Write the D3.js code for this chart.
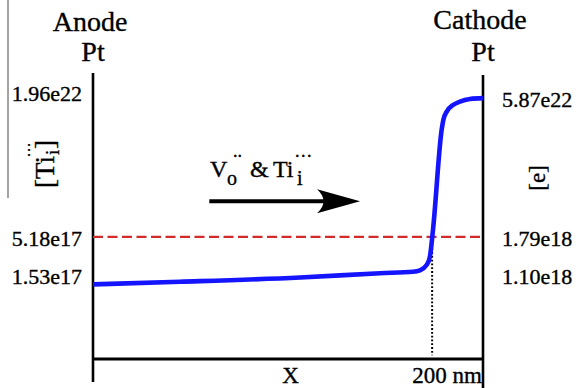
<!DOCTYPE html>
<html>
<head>
<meta charset="utf-8">
<script src="https://cdn.jsdelivr.net/npm/d3@7"></script>
<style>
  html, body { margin: 0; padding: 0; background: #fff; }
  svg text { font-family: "Liberation Serif", "Times New Roman", Times, serif; fill: #000; stroke: #000; stroke-width: 0.35px; }
</style>
</head>
<body>
<div id="chart"></div>
<script>
// position along the film (nm) and relative concentration level (schematic)
const positionNm = [0, 51.3, 122.1, 169.3, 188.7, 192.8, 196.8, 198.7, 200.5, 205.6, 206.6, 208.6, 212.3, 216.4, 222.3, 230];
const concLevel  = [26.1, 27.0, 28.5, 30.0, 30.5, 31.0, 32.9, 35.8, 45.1, 80.1, 83.6, 86.5, 88.8, 90.0, 90.9, 91.2];

const leftTickLevels = [92.7, 42.3, 29.0];
const leftTickLabels = ['1.96e22', '5.18e17', '1.53e17'];
const rightTickLevels = [90.7, 42.3, 29.0];
const rightTickLabels = ['5.87e22', '1.79e18', '1.10e18'];

const thresholdLevel = 42.7;
const junctionNm = 200;
const maxNm = 230;

const width = 578, height = 388;
const serif = '"Liberation Serif", "Times New Roman", Times, serif';

const svg = d3.select('#chart').append('svg')
  .attr('width', width)
  .attr('height', height);

// scales
const x = d3.scaleLinear().domain([0, maxNm]).range([93, 483]);
const y = d3.scaleLinear().domain([0, 100]).range([359, 73]);

// thin gray rule on the far left
svg.append('line')
  .attr('x1', 8).attr('x2', 8)
  .attr('y1', 0).attr('y2', 198)
  .attr('stroke', '#666')
  .attr('stroke-width', 1.2);

// electrode titles
const titles = [
  { t: 'Anode', x: x(0) - 3, y: 31 },
  { t: 'Pt', x: x(0), y: 61 },
  { t: 'Cathode', x: x(maxNm) - 3, y: 29 },
  { t: 'Pt', x: x(maxNm), y: 61 }
];
svg.selectAll('.title')
  .data(titles)
  .enter()
  .append('text')
  .attr('class', 'title')
  .attr('x', d => d.x)
  .attr('y', d => d.y)
  .attr('text-anchor', 'middle')
  .style('font-size', '28px')
  .text(d => d.t);

// axes with custom tick labels
const leftAxis = d3.axisLeft(y)
  .tickValues(leftTickLevels)
  .tickFormat((d, i) => leftTickLabels[i])
  .tickSize(0)
  .tickPadding(11);

const rightAxis = d3.axisRight(y)
  .tickValues(rightTickLevels)
  .tickFormat((d, i) => rightTickLabels[i])
  .tickSize(0)
  .tickPadding(19);

const gl = svg.append('g').attr('transform', `translate(${x(0)},0)`).call(leftAxis);
const gr = svg.append('g').attr('transform', `translate(${x(maxNm)},0)`).call(rightAxis);
[gl, gr].forEach(g => {
  g.select('.domain').remove();
  g.selectAll('text')
    .style('font-family', serif)
    .style('font-size', '22px')
    .attr('fill', '#000');
});

// frame lines
svg.append('line')
  .attr('x1', x(0)).attr('x2', x(0))
  .attr('y1', y(100)).attr('y2', y(-8))
  .attr('stroke', '#000').attr('stroke-width', 2.6);
svg.append('line')
  .attr('x1', x(maxNm)).attr('x2', x(maxNm))
  .attr('y1', y(99.3)).attr('y2', y(-10.2))
  .attr('stroke', '#000').attr('stroke-width', 2.6);
svg.append('line')
  .attr('x1', x(0)).attr('x2', x(maxNm))
  .attr('y1', y(0)).attr('y2', y(0))
  .attr('stroke', '#000').attr('stroke-width', 3);

// dashed threshold
svg.append('line')
  .attr('x1', x(0)).attr('x2', x(maxNm))
  .attr('y1', y(thresholdLevel)).attr('y2', y(thresholdLevel))
  .attr('stroke', '#d42a2a')
  .attr('stroke-width', 2.2)
  .attr('stroke-dasharray', '10,4.5');

// dotted line at junction
svg.append('line')
  .attr('x1', x(junctionNm)).attr('x2', x(junctionNm))
  .attr('y1', y(thresholdLevel)).attr('y2', y(1.3))
  .attr('stroke', '#000')
  .attr('stroke-width', 2)
  .attr('stroke-dasharray', '1.8,2');

// concentration profile
const points = positionNm.map((p, i) => [p, concLevel[i]]);
const line = d3.line()
  .x(d => x(d[0]))
  .y(d => y(d[1]))
  .curve(d3.curveMonotoneX);

svg.append('path')
  .datum(points)
  .attr('d', line)
  .attr('fill', 'none')
  .attr('stroke', '#1414ff')
  .attr('stroke-width', 4.6)
  .attr('stroke-linecap', 'butt');

// arrow annotation
const ay = y(55.2);
svg.append('line')
  .attr('x1', x(68.6)).attr('x2', x(142))
  .attr('y1', ay).attr('y2', ay)
  .attr('stroke', '#000')
  .attr('stroke-width', 4);
const tipX = x(157.5);
svg.append('path')
  .attr('d', `M${tipX},${ay} L${tipX - 43},${ay - 12} Q${tipX - 30},${ay} ${tipX - 43},${ay + 12} Z`)
  .attr('fill', '#000');

// Kröger-Vink label
const lab = svg.append('text').style('font-size', '24px');
lab.append('tspan').attr('x', 210).attr('y', 177).text('V');
lab.append('tspan').attr('x', 227).attr('y', 185).style('font-size', '20px').text('o');
lab.append('tspan').attr('x', 233).attr('y', 157).style('font-size', '18px').text('..');
lab.append('tspan').attr('x', 250).attr('y', 177).text('&');
lab.append('tspan').attr('x', 273).attr('y', 177).text('Ti');
lab.append('tspan').attr('x', 297).attr('y', 185).style('font-size', '20px').text('i');
lab.append('tspan').attr('x', 295).attr('y', 157).style('font-size', '18px').attr('letter-spacing', 1.5).text('...');

// rotated axis titles
const tl = svg.append('text')
  .attr('transform', 'translate(54,188) rotate(-90)')
  .style('font-size', '27px');
tl.append('tspan').attr('x', 0).attr('y', 0).text('[Ti');
tl.append('tspan').attr('x', 33).attr('y', 5).style('font-size', '19px').text('i');
tl.append('tspan').attr('x', 31).attr('y', -24).style('font-size', '16px').attr('letter-spacing', 1).text('...');
tl.append('tspan').attr('x', 39).attr('y', 0).text(']');

svg.append('text')
  .attr('transform', 'translate(545,178) rotate(-90)')
  .attr('text-anchor', 'middle')
  .style('font-size', '23px')
  .text('[e]');

// x labels
svg.append('text')
  .attr('x', x(116.5))
  .attr('y', 383)
  .attr('text-anchor', 'middle')
  .style('font-size', '23px')
  .text('X');
svg.append('text')
  .attr('x', x(maxNm) - 1)
  .attr('y', 383)
  .attr('text-anchor', 'end')
  .style('font-size', '23px')
  .text('200 nm');
</script>
</body>
</html>
